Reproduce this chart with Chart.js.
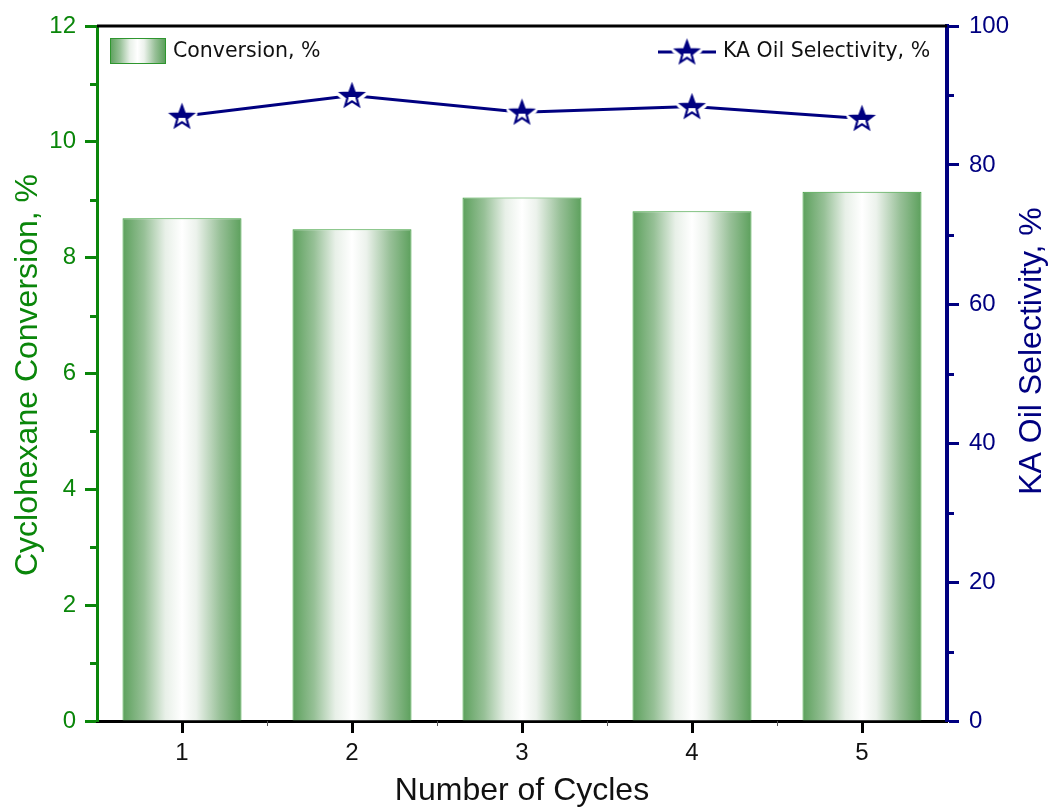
<!DOCTYPE html>
<html>
<head>
<meta charset="utf-8">
<script src="https://cdn.jsdelivr.net/npm/chart.js@4"></script>
<style>
html,body{margin:0;padding:0;background:#fff;}
canvas{display:block;}
</style>
</head>
<body>
<canvas id="c" width="1049" height="809"></canvas>
<script>
const cycles = ['1', '2', '3', '4', '5'];
const conversion = [8.68, 8.49, 9.04, 8.80, 9.14];
const selectivity = [87.0, 90.0, 87.6, 88.4, 86.7];
const leftTicks = [0, 2, 4, 6, 8, 10, 12];
const rightTicks = [0, 20, 40, 60, 80, 100];

const GREEN = '#0a860a';
const NAVY = '#000080';
const FONT = "'Liberation Sans', Arial, sans-serif";
const LEGFONT = "'DejaVu Sans', 'Noto Sans', sans-serif";

function makeStar(outer, inner) {
  const pad = 5;
  const size = Math.ceil(outer * 2 + pad * 2);
  const c = document.createElement('canvas');
  c.width = size; c.height = size;
  const g = c.getContext('2d');
  const cx = size / 2, cy = size / 2 + 1;
  function path() {
    g.beginPath();
    for (let i = 0; i < 10; i++) {
      const r = i % 2 === 0 ? outer : inner;
      const a = -Math.PI / 2 + i * Math.PI / 5;
      const x = cx + r * Math.cos(a), y = cy + r * Math.sin(a);
      if (i === 0) g.moveTo(x, y); else g.lineTo(x, y);
    }
    g.closePath();
  }
  path(); g.lineJoin = 'round'; g.strokeStyle = '#fff'; g.lineWidth = 9; g.stroke();
  path(); g.fillStyle = '#fff'; g.fill();
  g.save();
  g.beginPath(); g.rect(0, 0, size, cy + 0.5); g.clip();
  path(); g.fillStyle = NAVY; g.fill();
  g.restore();
  path(); g.lineJoin = 'miter'; g.strokeStyle = NAVY; g.lineWidth = 2.2; g.stroke();
  return c;
}
const starImg = makeStar(11.5, 4.8);

function makeGrad(ctx, x0, x1) {
  const gr = ctx.createLinearGradient(x0, 0, x1, 0);
  gr.addColorStop(0, 'rgb(92,160,92)');
  gr.addColorStop(0.18, 'rgb(150,192,150)');
  gr.addColorStop(0.36, 'rgb(232,240,232)');
  gr.addColorStop(0.5, 'rgb(255,255,255)');
  gr.addColorStop(0.62, 'rgb(236,242,236)');
  gr.addColorStop(0.82, 'rgb(152,192,152)');
  gr.addColorStop(1, 'rgb(92,160,92)');
  return gr;
}

function barBg(context) {
  const chart = context.chart;
  if (!chart.chartArea) return 'rgb(140,190,140)';
  const xs = chart.scales.x;
  const cx = xs.getPixelForValue(context.dataIndex);
  const w = xs.width / cycles.length * 0.7;
  return makeGrad(chart.ctx, cx - w / 2, cx + w / 2);
}

const decor = {
  id: 'decor',
  afterDraw(chart) {
    const ctx = chart.ctx;
    const a = chart.chartArea;
    const yl = chart.scales.y, yr = chart.scales.y1, xs = chart.scales.x;
    ctx.save();
    ctx.strokeStyle = '#000'; ctx.lineWidth = 3;
    ctx.beginPath(); ctx.moveTo(a.left, a.top); ctx.lineTo(a.right, a.top); ctx.stroke();
    ctx.strokeStyle = GREEN; ctx.lineWidth = 3;
    for (let v = 1; v < 12; v += 2) {
      const y = Math.round(yl.getPixelForValue(v)) + 0.5;
      ctx.beginPath(); ctx.moveTo(a.left - 7, y); ctx.lineTo(a.left, y); ctx.stroke();
    }
    ctx.strokeStyle = NAVY;
    for (let v = 10; v < 100; v += 20) {
      const y = Math.round(yr.getPixelForValue(v)) + 0.5;
      ctx.beginPath(); ctx.moveTo(a.right, y); ctx.lineTo(a.right + 7, y); ctx.stroke();
    }
    ctx.strokeStyle = '#555'; ctx.lineWidth = 1;
    for (let i = 0; i < cycles.length - 1; i++) {
      const x = Math.round((xs.getPixelForValue(i) + xs.getPixelForValue(i + 1)) / 2) + 0.5;
      ctx.beginPath(); ctx.moveTo(x, a.bottom); ctx.lineTo(x, a.bottom + 5); ctx.stroke();
    }
    ctx.font = '32px ' + FONT;
    ctx.textAlign = 'center'; ctx.textBaseline = 'middle';
    ctx.fillStyle = '#111';
    ctx.fillText('Number of Cycles', (a.left + a.right) / 2, 791);
    ctx.save();
    ctx.translate(28, 375);
    ctx.rotate(-Math.PI / 2);
    ctx.fillStyle = GREEN;
    ctx.fillText('Cyclohexane Conversion, %', 0, 0);
    ctx.restore();
    ctx.save();
    ctx.translate(1032, 351);
    ctx.rotate(-Math.PI / 2);
    ctx.fillStyle = NAVY;
    ctx.fillText('KA Oil Selectivity, %', 0, 0);
    ctx.restore();
    ctx.fillStyle = makeGrad(ctx, 110, 165);
    ctx.fillRect(110, 38, 55, 25);
    ctx.strokeStyle = '#2e962e'; ctx.lineWidth = 1;
    ctx.strokeRect(110.5, 38.5, 55, 25);
    ctx.font = '20.5px ' + LEGFONT;
    ctx.textAlign = 'left'; ctx.fillStyle = '#111';
    ctx.fillText('Conversion, %', 173, 52);
    ctx.strokeStyle = NAVY; ctx.lineWidth = 3;
    ctx.beginPath(); ctx.moveTo(658, 52); ctx.lineTo(716, 52); ctx.stroke();
    ctx.drawImage(starImg, 687 - starImg.width / 2, 52 - starImg.height / 2);
    ctx.fillStyle = '#111';
    ctx.fillText('KA Oil Selectivity, %', 723, 52);
    ctx.restore();
  }
};

new Chart(document.getElementById('c'), {
  data: {
    labels: cycles,
    datasets: [
      {
        type: 'line',
        label: 'KA Oil Selectivity, %',
        data: selectivity,
        yAxisID: 'y1',
        borderColor: NAVY,
        borderWidth: 3,
        pointStyle: starImg,
        pointRadius: 12,
        pointHoverRadius: 12,
        tension: 0,
        order: 0
      },
      {
        type: 'bar',
        label: 'Conversion, %',
        data: conversion,
        yAxisID: 'y',
        backgroundColor: barBg,
        borderColor: '#3a9e3a',
        borderWidth: 1,
        barPercentage: 0.7,
        categoryPercentage: 1.0,
        order: 1
      }
    ]
  },
  options: {
    responsive: false,
    animation: false,
    devicePixelRatio: 1,
    layout: { padding: { top: 26, left: 0, right: 0, bottom: 0 } },
    plugins: { legend: { display: false }, tooltip: { enabled: false } },
    scales: {
      x: {
        type: 'category',
        offset: true,
        grid: { offset: false, drawOnChartArea: false, drawTicks: true, tickLength: 12, tickWidth: 3, tickColor: '#000' },
        border: { color: '#000', width: 3 },
        ticks: { color: '#111', font: { family: FONT, size: 24 }, padding: 6 },
        afterFit(s) { s.height = 88; }
      },
      y: {
        position: 'left',
        min: 0, max: 12,
        afterBuildTicks(s) { s.ticks = leftTicks.map(v => ({ value: v })); },
        grid: { drawOnChartArea: false, drawTicks: true, tickLength: 12, tickWidth: 3, tickColor: GREEN },
        border: { color: GREEN, width: 3 },
        ticks: { color: GREEN, font: { family: FONT, size: 24 }, padding: 9 },
        afterFit(s) { s.width = 97; }
      },
      y1: {
        position: 'right',
        min: 0, max: 100,
        afterBuildTicks(s) { s.ticks = rightTicks.map(v => ({ value: v })); },
        grid: { drawOnChartArea: false, drawTicks: true, tickLength: 12, tickWidth: 3, tickColor: NAVY },
        border: { color: NAVY, width: 4 },
        ticks: { color: NAVY, font: { family: FONT, size: 24 }, padding: 10 },
        afterFit(s) { s.width = 102; }
      }
    }
  },
  plugins: [decor]
});
</script>
</body>
</html>
